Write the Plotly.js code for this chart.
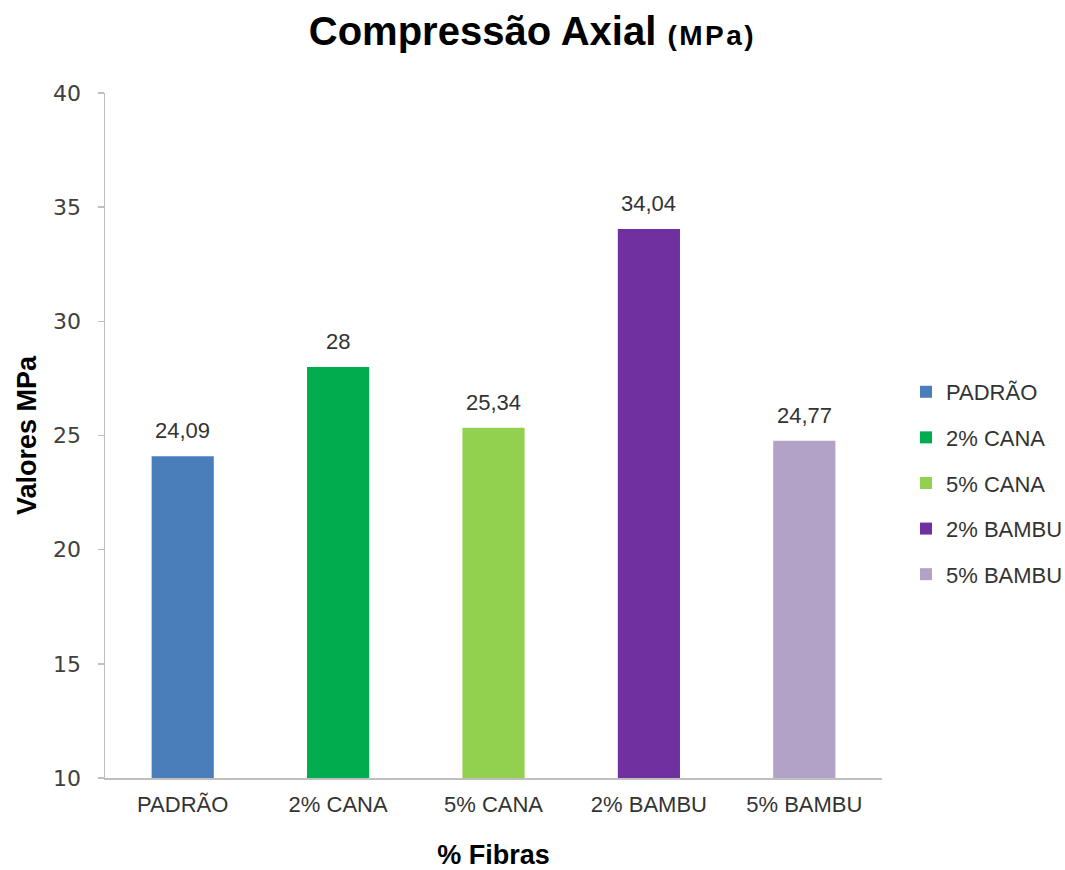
<!DOCTYPE html>
<html>
<head>
<meta charset="utf-8">
<script src="https://cdn.plot.ly/plotly-3.0.1.min.js"></script>
<style>html,body{margin:0;padding:0;background:#fff;}#chart{width:1065px;height:870px;}</style>
</head>
<body>
<div id="chart"></div>
<script>
const categories = ["PADRÃO", "2% CANA", "5% CANA", "2% BAMBU", "5% BAMBU"];
const values = [24.09, 28, 25.34, 34.04, 24.77];
const valueLabels = ["24,09", "28", "25,34", "34,04", "24,77"];
const colors = ["#4A7EBB", "#00AC4E", "#92D050", "#7030A0", "#B3A2C7"];
const yTicks = [10, 15, 20, 25, 30, 35, 40];

const FONT = "Liberation Sans, Arial, sans-serif";

const traces = categories.map((c, i) => ({
  type: "bar",
  x: [c],
  y: [values[i]],
  name: c,
  legendgroup: "g" + i,
  width: 0.4,
  marker: {color: colors[i]},
  hoverinfo: "x+y"
}));

const annotations = categories.map((c, i) => ({
  x: c, y: values[i], xref: "x", yref: "y",
  text: valueLabels[i], showarrow: false,
  yanchor: "bottom", yshift: 11,
  font: {family: FONT, size: 22, color: "#333"}
}));

const layout = {
  width: 1065, height: 870,
  paper_bgcolor: "#fff", plot_bgcolor: "#fff",
  margin: {l: 105, r: 183, t: 93, b: 92},
  barmode: "overlay",
  title: {
    text: "<b>Compressão Axial <span style='font-size:28px;letter-spacing:2.5px'>(MPa)</span></b>",
    font: {family: FONT, size: 40, color: "#000"},
    x: 0.5, xanchor: "center", xref: "container",
    y: 1 - 31/870, yanchor: "middle", yref: "container"
  },
  xaxis: {
    type: "category",
    showline: true, linecolor: "#BFBFBF", linewidth: 1.5,
    ticks: "", showgrid: false, zeroline: false,
    ticklabelstandoff: 6,
    tickfont: {family: FONT, size: 22, color: "#333"},
    title: {text: "<b>% Fibras</b>", font: {family: FONT, size: 27, color: "#000"}, standoff: 30}
  },
  yaxis: {
    range: [10, 40], tickvals: yTicks, ticktext: yTicks.map(String),
    showline: true, linecolor: "#BFBFBF", linewidth: 1.5,
    ticks: "outside", ticklen: 6, tickcolor: "#BFBFBF", tickwidth: 1.5,
    ticklabelstandoff: 12,
    showgrid: false, zeroline: false,
    tickfont: {family: "DejaVu Sans, Verdana, sans-serif", size: 22, color: "#404040"},
    title: {text: "<b>Valores MPa</b>", font: {family: FONT, size: 27, color: "#000"}, standoff: 8}
  },
  showlegend: true,
  legend: {
    xref: "container",
    x: 906/1065, xanchor: "left", y: 0.4307, yanchor: "middle",
    font: {family: FONT, size: 22, color: "#333"},
    tracegroupgap: 14, itemwidth: 30,
    bgcolor: "rgba(0,0,0,0)"
  },
  annotations: annotations
};

Plotly.newPlot("chart", traces, layout, {displayModeBar: false, staticPlot: true});
</script>
</body>
</html>
